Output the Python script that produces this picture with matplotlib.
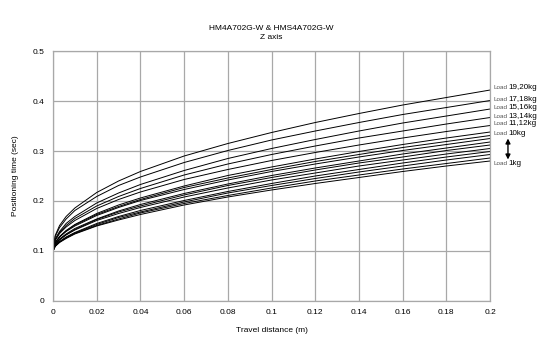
import matplotlib
matplotlib.use("Agg")
import matplotlib.pyplot as plt

plt.rcParams['font.family'] = ['Liberation Sans', 'DejaVu Sans']

# travel distance (m) where the curves were read
distance = [0, 0.001, 0.003, 0.006, 0.01, 0.02, 0.03, 0.04, 0.06, 0.08,
            0.1, 0.12, 0.14, 0.16, 0.18, 0.2]

# positioning time (sec), one list per load (lightest first)
load_1 = [0.100, 0.109, 0.117, 0.125, 0.134, 0.150, 0.162, 0.173, 0.192, 0.208,
          0.222, 0.235, 0.247, 0.259, 0.270, 0.280]
load_2 = [0.100, 0.110, 0.118, 0.126, 0.135, 0.151, 0.164, 0.176, 0.195, 0.211,
          0.226, 0.240, 0.252, 0.264, 0.275, 0.286]
load_3 = [0.100, 0.110, 0.118, 0.127, 0.136, 0.153, 0.167, 0.178, 0.198, 0.216,
          0.231, 0.245, 0.258, 0.270, 0.282, 0.293]
load_4 = [0.100, 0.110, 0.119, 0.128, 0.137, 0.155, 0.169, 0.181, 0.201, 0.219,
          0.235, 0.250, 0.263, 0.276, 0.288, 0.299]
load_5 = [0.100, 0.112, 0.122, 0.132, 0.142, 0.161, 0.175, 0.187, 0.208, 0.226,
          0.242, 0.256, 0.270, 0.282, 0.294, 0.305]
load_6 = [0.100, 0.113, 0.123, 0.133, 0.143, 0.163, 0.178, 0.190, 0.212, 0.231,
          0.247, 0.262, 0.276, 0.288, 0.301, 0.312]
load_7 = [0.100, 0.113, 0.124, 0.134, 0.145, 0.164, 0.180, 0.193, 0.215, 0.234,
          0.251, 0.266, 0.280, 0.294, 0.306, 0.318]
load_8 = [0.100, 0.116, 0.128, 0.139, 0.150, 0.171, 0.187, 0.201, 0.223, 0.242,
          0.259, 0.274, 0.288, 0.301, 0.313, 0.325]
load_9 = [0.100, 0.116, 0.128, 0.140, 0.152, 0.173, 0.189, 0.203, 0.227, 0.246,
          0.263, 0.279, 0.293, 0.307, 0.319, 0.331]
load_10 = [0.100, 0.117, 0.129, 0.141, 0.153, 0.175, 0.192, 0.206, 0.230, 0.251,
           0.268, 0.284, 0.299, 0.313, 0.326, 0.338]
load_11_12 = [0.100, 0.121, 0.135, 0.148, 0.161, 0.185, 0.203, 0.218, 0.243, 0.263,
              0.281, 0.297, 0.312, 0.326, 0.339, 0.351]
load_13_14 = [0.100, 0.122, 0.137, 0.151, 0.165, 0.190, 0.209, 0.225, 0.252, 0.274,
              0.293, 0.310, 0.326, 0.340, 0.354, 0.367]
load_15_16 = [0.100, 0.124, 0.139, 0.155, 0.169, 0.196, 0.216, 0.233, 0.261, 0.285,
              0.305, 0.323, 0.340, 0.356, 0.370, 0.384]
load_17_18 = [0.100, 0.129, 0.147, 0.164, 0.181, 0.209, 0.231, 0.248, 0.277, 0.301,
              0.322, 0.340, 0.357, 0.373, 0.387, 0.401]
load_19_20 = [0.100, 0.131, 0.151, 0.169, 0.186, 0.217, 0.240, 0.259, 0.290, 0.315,
              0.337, 0.357, 0.375, 0.392, 0.407, 0.422]

curves = [load_1, load_2, load_3, load_4, load_5, load_6, load_7, load_8, load_9,
          load_10, load_11_12, load_13_14, load_15_16, load_17_18, load_19_20]

# right-hand labels: (curve, text, vertical nudge in points)
labels = [(load_19_20, "19,20kg", 1.5), (load_17_18, "17,18kg", 1), (load_15_16, "15,16kg", 1),
          (load_13_14, "13,14kg", 1), (load_11_12, "11,12kg", 1.5), (load_10, "10kg", -0.8),
          (load_1, "1kg", -2)]

x_ticks = [0, 0.02, 0.04, 0.06, 0.08, 0.1, 0.12, 0.14, 0.16, 0.18, 0.2]
x_ticklabels = ["0", "0.02", "0.04", "0.06", "0.08", "0.1", "0.12", "0.14", "0.16", "0.18", "0.2"]
y_ticks = [0, 0.1, 0.2, 0.3, 0.4, 0.5]
y_ticklabels = ["0", "0.1", "0.2", "0.3", "0.4", "0.5"]

fig = plt.figure(figsize=(5.5, 3.52), dpi=100)
ax = fig.add_axes([0.0964, 0.145, 0.7946, 0.710])

for c in curves:
    ax.plot(distance, c, color="black", linewidth=0.7, solid_capstyle="butt")

ax.set_xlim(0, 0.2)
ax.set_ylim(0, 0.5)
ax.set_xticks(x_ticks)
ax.set_xticklabels(x_ticklabels)
ax.set_yticks(y_ticks)
ax.set_yticklabels(y_ticklabels)
ax.tick_params(length=0, labelsize=6, pad=6)
ax.grid(True, color="#a8a8a8", linewidth=0.9)
for s in ax.spines.values():
    s.set_color("#a8a8a8")
    s.set_linewidth(0.9)
ax.set_axisbelow(True)

ax.set_xlabel("Travel distance (m)", fontsize=6, labelpad=8)
ax.set_ylabel("Positioning time (sec)", fontsize=6, labelpad=10)
ax.set_title("HM4A702G-W & HMS4A702G-W\nZ axis", fontsize=6, pad=9, linespacing=1.4)

# load labels at the right end of each curve
for c, txt, dy in labels:
    ax.annotate("Load", xy=(0.2, c[-1]), xytext=(2.5, dy), textcoords="offset points",
                fontsize=4.6, color="#555555", va="center", annotation_clip=False)
    ax.annotate(txt, xy=(0.2, c[-1]), xytext=(13.5, dy), textcoords="offset points",
                fontsize=5.8, color="black", va="center", annotation_clip=False)

# double-headed arrow between 10kg and 1kg
ax.annotate("", xy=(1.041, load_1[-1] + 0.003), xytext=(1.041, load_10[-1] - 0.013),
            xycoords=("axes fraction", "data"),
            arrowprops=dict(arrowstyle="<|-|>", color="black", lw=1.0,
                            mutation_scale=7, shrinkA=0, shrinkB=0),
            annotation_clip=False)

fig.savefig("out.png", dpi=100)
